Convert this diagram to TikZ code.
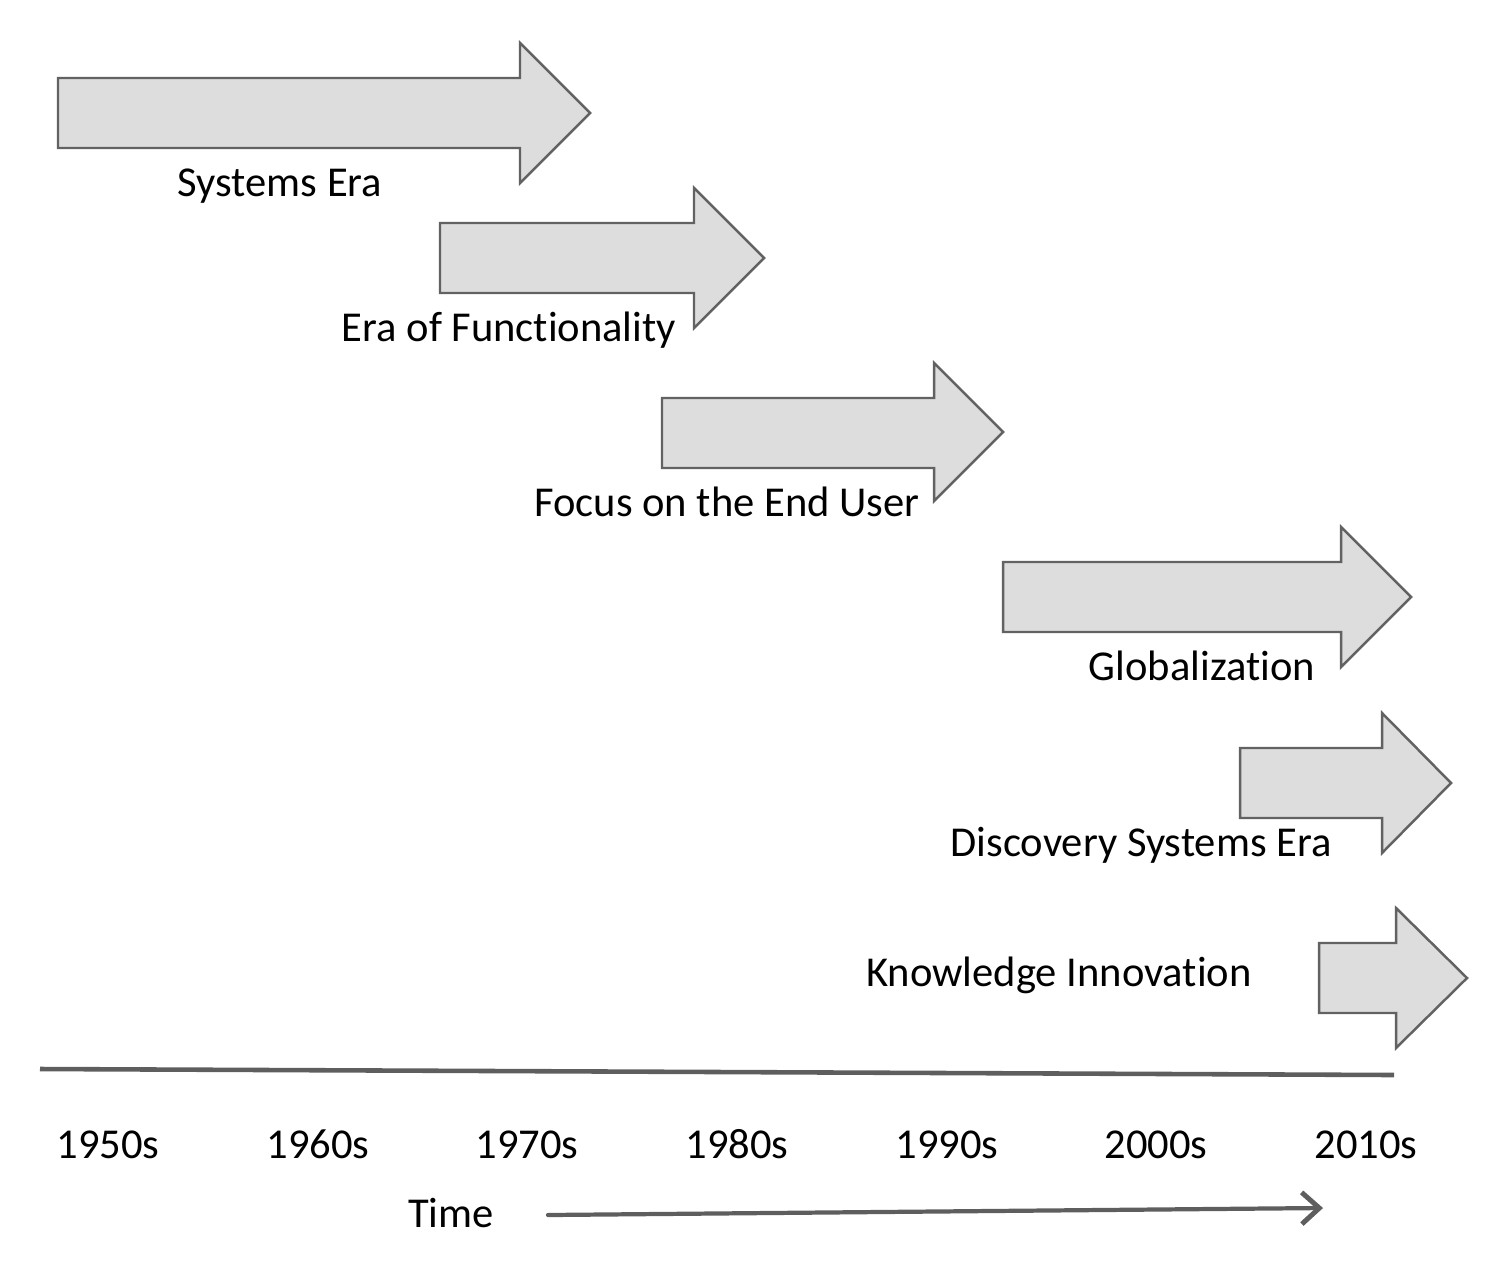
\documentclass[tikz,border=0pt]{standalone}
\usepackage{fontspec}
\setmainfont[Ligatures=NoCommon]{Carlito}
\usetikzlibrary{arrows.meta}
\definecolor{arrfill}{HTML}{DDDDDD}
\definecolor{arrline}{HTML}{626262}
\definecolor{axisgray}{HTML}{5E5E5E}
\tikzset{
  era/.style={fill=arrfill, draw=arrline, line width=0.7pt, line join=miter},
  eralabel/.style={anchor=base, inner sep=0pt, font=\fontsize{12.1}{14}\selectfont},
  decade/.style={anchor=base, inner sep=0pt, font=\fontsize{12.1}{14}\selectfont},
}
\begin{document}
\begin{tikzpicture}[x=0.01cm, y=-0.01cm]
\useasboundingbox (0,0) rectangle (1501,1273);
% era arrows
\draw[era] (58,78) -- (520,78) -- (520,43) -- (590,113) -- (520,183) -- (520,148) -- (58,148) -- cycle;
\draw[era] (440,223) -- (694,223) -- (694,188) -- (764,258) -- (694,328) -- (694,293) -- (440,293) -- cycle;
\draw[era] (662,398) -- (934,398) -- (934,363) -- (1003,432) -- (934,501) -- (934,468) -- (662,468) -- cycle;
\draw[era] (1003,562) -- (1341,562) -- (1341,527) -- (1411,597) -- (1341,667) -- (1341,632) -- (1003,632) -- cycle;
\draw[era] (1240,748) -- (1382,748) -- (1382,713) -- (1451,783) -- (1382,853) -- (1382,818) -- (1240,818) -- cycle;
\draw[era] (1319,943) -- (1396,943) -- (1396,908) -- (1467,978) -- (1396,1048) -- (1396,1013) -- (1319,1013) -- cycle;
% era labels
\node[eralabel] (l1) at (280,196) {Systems Era};
\node[eralabel] (l2) at (509,341) {Era of Functionality};
\node[eralabel] (l3) at (727,516) {Focus on the End User};
\node[eralabel] (l4) at (1202,680) {Globalization};
\node[eralabel] (l5) at (1141,856) {Discovery Systems Era};
\node[eralabel] (l6) at (1059,986) {Knowledge Innovation};
% timeline
\coordinate (ta) at (40,1069);
\coordinate (tb) at (1394,1075);
\draw[axisgray, line width=1.3pt] (ta) -- (tb);
% decades
\node[decade] (d1) at (108,1158) {1950s};
\node[decade] (d2) at (318,1158) {1960s};
\node[decade] (d3) at (527,1158) {1970s};
\node[decade] (d4) at (737,1158) {1980s};
\node[decade] (d5) at (947,1158) {1990s};
\node[decade] (d6) at (1156,1158) {2000s};
\node[decade] (d7) at (1366,1158) {2010s};
% time
\node[decade] (time) at (451,1227) {Time};
\coordinate (ts) at (548,1215);
\coordinate (te) at (1323,1208);
\draw[axisgray, line width=1.2pt, line cap=round, -{Straight Barb[length=5pt, width=9pt, line width=1.4pt]}] (ts) -- (te);
\end{tikzpicture}
\end{document}
